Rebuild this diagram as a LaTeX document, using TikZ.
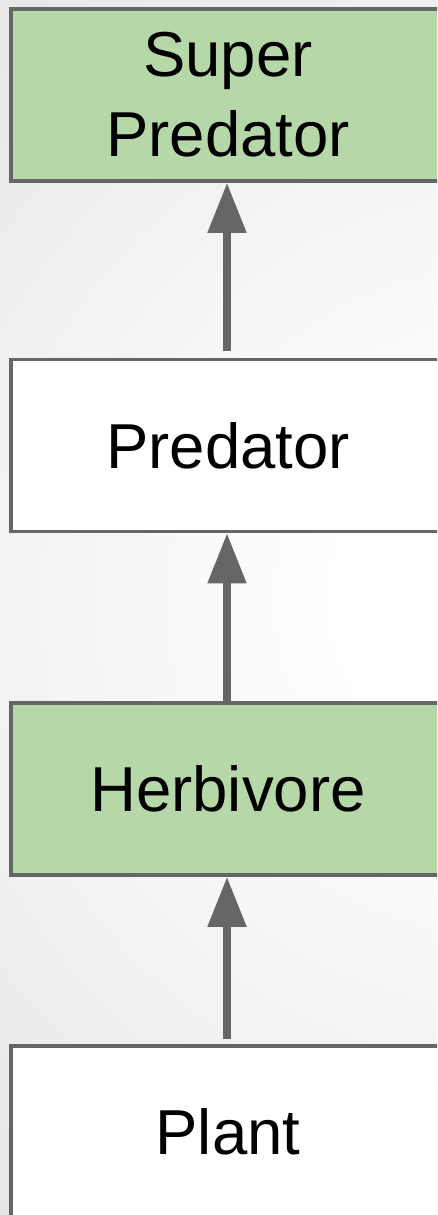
\documentclass[tikz,border=0pt]{standalone}
\usepackage{fontspec}
\setmainfont{Liberation Sans}
\usetikzlibrary{arrows.meta}
\definecolor{boxgreen}{HTML}{B6D7A8}
\definecolor{edgegray}{HTML}{666666}
\definecolor{bgouter}{HTML}{C8C8C8}
\pgfdeclareradialshading{bgshade}{\pgfpoint{0bp}{0bp}}{color(0bp)=(white); color(5bp)=(white); color(50bp)=(bgouter)}
\tikzset{
  level/.style={draw=edgegray, line width=3.5pt, minimum width=434pt, minimum height=172pt,
    inner sep=0pt, align=center, font=\fontsize{63.5pt}{80pt}\selectfont, text=black},
  greenbox/.style={level, fill=boxgreen},
  whitebox/.style={level, fill=white},
  uparrow/.style={draw=edgegray, line width=8pt, -{Triangle[width=37pt,length=50pt]}, shorten >=0pt}
}
\begin{document}
\begin{tikzpicture}[x=1pt, y=-1pt]
\useasboundingbox (0,0) rectangle (437,1215);
\clip (0,0) rectangle (437,1215);
\shade[shading=bgshade] (500,600) circle (800pt);
\node[greenbox] (sp) at (228,95) {Super\\Predator};
\node[whitebox] (pr) at (228,445.5) {Predator};
\node[greenbox] (hb) at (228,789) {Herbivore};
\node[whitebox] (pl) at (228,1132) {Plant};
\coordinate (a1) at (227,351);
\coordinate (a3) at (227,1039);
\draw[uparrow] (a1) -- (sp.south -| a1);
\draw[uparrow] (hb.north -| a1) -- (pr.south -| a1);
\draw[uparrow] (a3) -- (hb.south -| a1);
\end{tikzpicture}
\end{document}
